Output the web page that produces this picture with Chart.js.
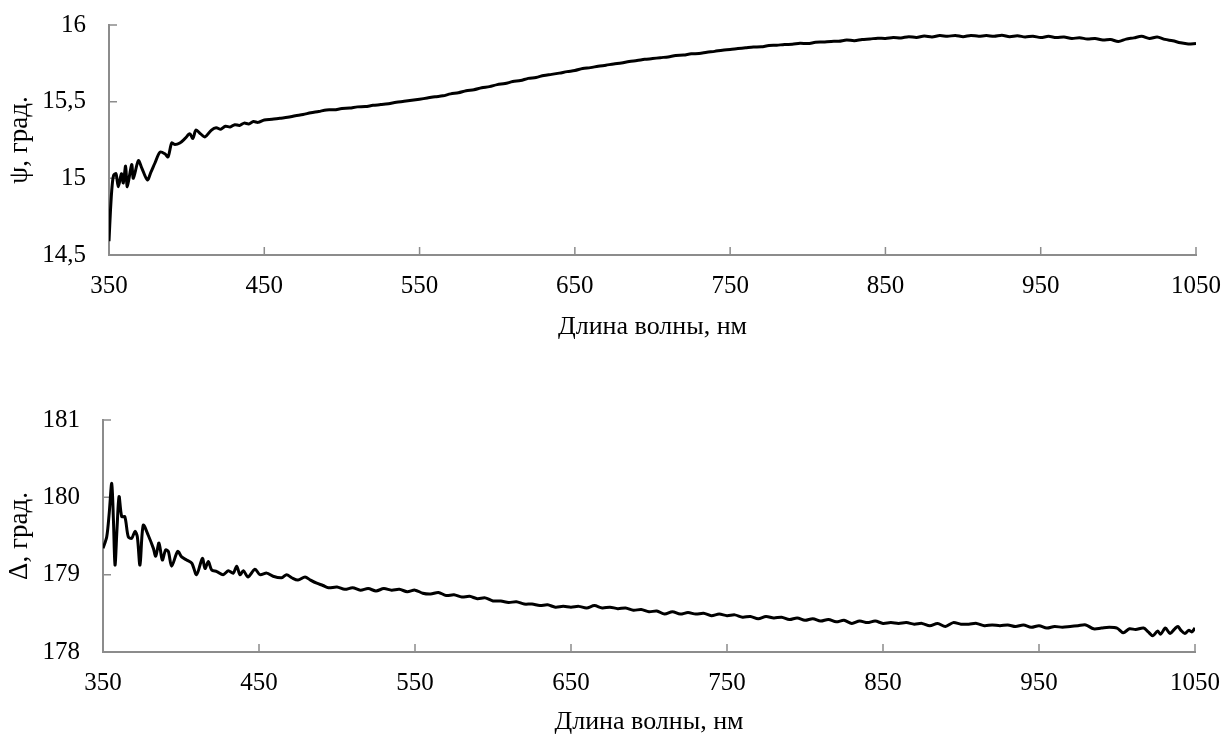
<!DOCTYPE html>
<html>
<head>
<meta charset="utf-8">
<script src="https://cdn.jsdelivr.net/npm/chart.js@4"></script>
<style>
    html, body { margin: 0; padding: 0; background: #fff; overflow: hidden; }
    #wrap { position: relative; width: 1223px; height: 734px; }
    canvas { position: absolute; left: 0; }
</style>
</head>
<body>
<div id="wrap">
    <canvas id="psiChart" width="1223" height="360" style="top:0px"></canvas>
    <canvas id="deltaChart" width="1223" height="380" style="top:380px"></canvas>
</div>
<script>
// tick labels
const xTicks = [350, 450, 550, 650, 750, 850, 950, 1050];
const psiTicks = [14.5, 15, 15.5, 16];
const deltaTicks = [178, 179, 180, 181];

// psi, degrees (top chart)
const psiWavelength = [
    350, 351, 352, 353, 354.5, 356, 358, 359.2, 360.7, 361.8,
    364.6, 365.7, 368.9, 371, 374.7, 377, 379.6, 382.8, 386, 388,
    390.4, 392.5, 395.6, 399, 402, 404, 406, 409, 411.8, 416,
    419, 422, 425, 428, 431, 434, 437, 440, 443, 446, 450,
    455, 460, 465, 470, 475, 480, 485, 490, 495, 500,
    505, 510, 515, 520, 525, 530, 535, 540, 545, 550,
    555, 560, 565, 570, 575, 580, 585, 590, 595, 600,
    605, 610, 615, 620, 625, 630, 635, 640, 645, 650,
    655, 660, 665, 670, 675, 680, 685, 690, 695, 700,
    705, 710, 715, 720, 725, 730, 735, 740, 745, 750,
    755, 760, 765, 770, 775, 780, 785, 790, 795, 800,
    805, 810, 815, 820, 825, 830, 835, 840, 845, 850,
    855, 860, 865, 870, 875, 880, 885, 890, 895, 900,
    905, 910, 915, 920, 925, 930, 935, 940, 945, 950,
    955, 960, 965, 970, 975, 980, 985, 990, 995, 1000,
    1005, 1010, 1015, 1020, 1025, 1030, 1035, 1040, 1045, 1050
];
const psiValues = [
    14.59, 14.80, 14.95, 15.02, 15.03, 14.945, 15.03, 14.97, 15.08, 14.945,
    15.09, 15.00, 15.115, 15.07, 14.99, 15.04, 15.10, 15.17, 15.16, 15.14,
    15.23, 15.22, 15.23, 15.26, 15.29, 15.26, 15.315, 15.29, 15.27, 15.315,
    15.33, 15.32, 15.34, 15.335, 15.35, 15.345, 15.36, 15.355, 15.37, 15.365, 15.38,
    15.385, 15.392, 15.398, 15.408, 15.416, 15.428, 15.436, 15.446, 15.447, 15.455,
    15.458, 15.466, 15.468, 15.476, 15.481, 15.487, 15.496, 15.502, 15.509, 15.516,
    15.524, 15.532, 15.538, 15.551, 15.558, 15.571, 15.578, 15.591, 15.598, 15.611,
    15.618, 15.631, 15.638, 15.652, 15.658, 15.671, 15.678, 15.686, 15.696, 15.703,
    15.716, 15.722, 15.731, 15.738, 15.746, 15.752, 15.762, 15.768, 15.776, 15.781,
    15.787, 15.792, 15.801, 15.804, 15.812, 15.814, 15.822, 15.828, 15.836, 15.840,
    15.846, 15.851, 15.856, 15.858, 15.866, 15.868, 15.873, 15.874, 15.881, 15.879,
    15.887, 15.889, 15.893, 15.894, 15.902, 15.898, 15.906, 15.909, 15.914, 15.912,
    15.918, 15.916, 15.924, 15.919, 15.928, 15.922, 15.931, 15.926, 15.932, 15.924,
    15.932, 15.927, 15.931, 15.926, 15.933, 15.924, 15.930, 15.922, 15.927, 15.918,
    15.926, 15.918, 15.921, 15.912, 15.917, 15.909, 15.912, 15.902, 15.905, 15.893,
    15.908, 15.916, 15.926, 15.912, 15.922, 15.906, 15.897, 15.884, 15.876, 15.880
];

// delta, degrees (bottom chart)
const deltaWavelength = [
    350, 352.4, 354, 355.6, 356.7, 357.7, 359, 360.3, 362, 364,
    366.2, 368.4, 370.5, 372, 373.7, 375.8, 379, 382.3, 383.8, 385.9,
    388, 390.2, 391.9, 394, 397.9, 400.4, 403.6, 406.9, 410, 413.7,
    415.4, 417.5, 419.7, 423, 427, 430.3, 433.5, 435.7, 437.8, 440,
    443, 447.4, 450.6, 455, 459, 464.5, 467.7, 471, 475, 479.5,
    483, 487, 491, 494.5,
    500, 505, 510, 515, 520, 525, 530, 535, 540, 545,
    550, 555, 560, 565, 570, 575, 580, 585, 590, 595,
    600, 605, 610, 615, 620, 625, 630, 635, 640, 645,
    650, 655, 660, 665, 670, 675, 680, 685, 690, 695,
    700, 705, 710, 715, 720, 725, 730, 735, 740, 745,
    750, 755, 760, 765, 770, 775, 780, 785, 790, 795,
    800, 805, 810, 815, 820, 825, 830, 835, 840, 845,
    850, 855, 860, 865, 870, 875, 880, 885, 890, 895,
    900, 905, 910, 915, 920, 925, 930, 935, 940, 945,
    950, 955, 960, 965, 970, 975, 980, 985, 990, 995,
    1000, 1004, 1008, 1012, 1017, 1020, 1023, 1026, 1028, 1031,
    1034, 1037, 1039, 1041, 1043.5, 1046, 1048, 1050
];
const deltaValues = [
    179.34, 179.49, 179.80, 180.18, 179.70, 179.125, 179.60, 180.01, 179.75, 179.75,
    179.49, 179.47, 179.56, 179.49, 179.125, 179.64, 179.51, 179.34, 179.24, 179.41,
    179.19, 179.32, 179.30, 179.11, 179.30, 179.23, 179.19, 179.15, 179.00, 179.21,
    179.08, 179.17, 179.06, 179.04, 179.00, 179.05, 179.02, 179.11, 179.00, 179.05,
    178.97, 179.07, 179.00, 179.02, 178.98, 178.96, 179.00, 178.96, 178.93, 178.97,
    178.93, 178.89, 178.86, 178.83,
    178.84, 178.81, 178.83, 178.80, 178.82, 178.79, 178.82, 178.80, 178.81, 178.78,
    178.80, 178.76, 178.75, 178.77, 178.73, 178.74, 178.71, 178.72, 178.69, 178.70,
    178.66, 178.66, 178.64, 178.65, 178.62, 178.62, 178.60, 178.61, 178.58, 178.59,
    178.58, 178.59, 178.57, 178.60, 178.57, 178.58, 178.56, 178.57, 178.54, 178.55,
    178.52, 178.53, 178.49, 178.52, 178.49, 178.51, 178.49, 178.50, 178.47, 178.49,
    178.47, 178.48, 178.45, 178.46, 178.43, 178.46, 178.44, 178.45, 178.42, 178.44,
    178.41, 178.43, 178.40, 178.42, 178.39, 178.41, 178.37, 178.40, 178.38, 178.40,
    178.37, 178.38, 178.37, 178.38, 178.36, 178.37, 178.34, 178.37, 178.33, 178.38,
    178.36, 178.36, 178.37, 178.34, 178.35, 178.34, 178.35, 178.33, 178.35, 178.32,
    178.34, 178.31, 178.33, 178.32, 178.33, 178.34, 178.35, 178.30, 178.31, 178.32,
    178.31, 178.25, 178.30, 178.29, 178.31, 178.26, 178.21, 178.27, 178.23, 178.31,
    178.24, 178.30, 178.33, 178.28, 178.24, 178.28, 178.26, 178.31
];

const axisColor = '#8c8c8c';
const fontFamily = "'Liberation Serif', 'Times New Roman', serif";

// Excel-style tick marks pointing into the plot
const insideTicks = {
    id: 'insideTicks',
    beforeDatasetsDraw(chart) {
        const { ctx, chartArea, scales } = chart;
        ctx.save();
        ctx.strokeStyle = axisColor;
        ctx.lineWidth = 1.5;
        ctx.beginPath();
        scales.x.ticks.forEach(t => {
            const px = scales.x.getPixelForValue(t.value);
            ctx.moveTo(px, chartArea.bottom);
            ctx.lineTo(px, chartArea.bottom - 8);
        });
        scales.y.ticks.forEach(t => {
            const py = scales.y.getPixelForValue(t.value);
            ctx.moveTo(chartArea.left, py);
            ctx.lineTo(chartArea.left + 8, py);
        });
        ctx.stroke();
        ctx.restore();
    }
};

function makeChart(canvasId, xs, ys, yTicks, yTitle, box) {
    const points = xs.map((x, i) => ({ x: x, y: ys[i] }));
    const ctx = document.getElementById(canvasId).getContext('2d');
    return new Chart(ctx, {
        type: 'line',
        data: {
            datasets: [{
                data: points,
                borderColor: '#000',
                borderWidth: 3,
                pointRadius: 0,
                tension: 0.3,
                fill: false
            }]
        },
        options: {
            responsive: false,
            animation: false,
            events: [],
            layout: {
                padding: { top: box.padTop, right: box.padRight, bottom: box.padBottom, left: 0 }
            },
            plugins: {
                legend: { display: false },
                tooltip: { enabled: false }
            },
            scales: {
                x: {
                    type: 'linear',
                    min: 350,
                    max: 1050,
                    afterBuildTicks: scale => { scale.ticks = xTicks.map(v => ({ value: v })); },
                    afterFit: scale => {
                        scale.height = 100;
                        scale.paddingLeft = 0;
                        scale.paddingRight = 0;
                    },
                    grid: { display: false, drawTicks: false },
                    border: { display: true, color: axisColor, width: 2 },
                    ticks: {
                        color: '#000',
                        padding: 16,
                        maxRotation: 0,
                        autoSkip: false,
                        font: { family: fontFamily, size: 25 },
                        callback: v => String(v)
                    },
                    title: {
                        display: true,
                        text: 'Длина волны, нм',
                        color: '#000',
                        padding: { top: 0, bottom: box.xTitlePad },
                        font: { family: fontFamily, size: 26, lineHeight: 1 }
                    }
                },
                y: {
                    type: 'linear',
                    min: yTicks[0],
                    max: yTicks[yTicks.length - 1],
                    afterBuildTicks: scale => { scale.ticks = yTicks.map(v => ({ value: v })); },
                    afterFit: scale => {
                        scale.width = box.yWidth;
                        scale.paddingTop = 0;
                        scale.paddingBottom = 0;
                    },
                    grid: { display: false, drawTicks: false },
                    border: { display: true, color: axisColor, width: 2 },
                    ticks: {
                        color: '#000',
                        padding: 23,
                        font: { family: fontFamily, size: 25 },
                        callback: v => String(v).replace('.', ',')
                    },
                    title: {
                        display: true,
                        text: yTitle,
                        color: '#000',
                        padding: { top: 6, bottom: 0 },
                        font: { family: fontFamily, size: 27, lineHeight: 1 }
                    }
                }
            }
        },
        plugins: [insideTicks]
    });
}

makeChart('psiChart', psiWavelength, psiValues, psiTicks, 'ψ, град.',
    { padTop: 25, padRight: 27, padBottom: 5, yWidth: 109, xTitlePad: 15 });
makeChart('deltaChart', deltaWavelength, deltaValues, deltaTicks, 'Δ, град.',
    { padTop: 40, padRight: 28, padBottom: 8, yWidth: 103, xTitlePad: 17 });
</script>
</body>
</html>
